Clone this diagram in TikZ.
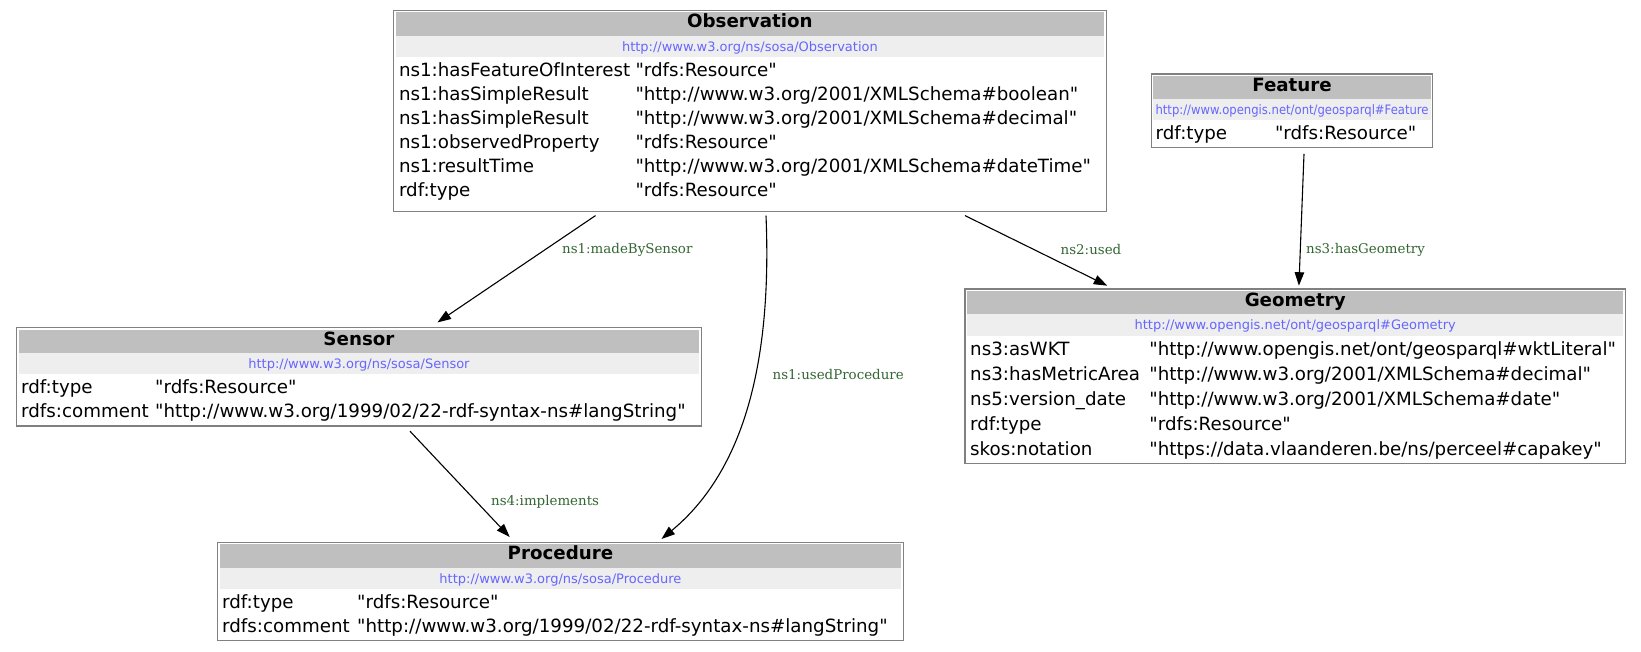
\documentclass[tikz,border=0pt]{standalone}
\usepackage{fontspec}
\usepackage{graphicx}
\setmainfont{DejaVu Sans}[Ligatures=TeXOff]
\newfontfamily\lblfont{DejaVu Serif}[Ligatures=TeXOff]
\usetikzlibrary{calc,arrows.meta}
\definecolor{hdr}{HTML}{BFBFBF}
\definecolor{urlbg}{HTML}{EEEEEE}
\definecolor{urlfg}{HTML}{6666FF}
\definecolor{lblfg}{HTML}{336633}
\definecolor{bord}{HTML}{808080}
\tikzset{
  rbox/.style={draw=bord, line width=1.2pt, inner sep=0pt, outer sep=0pt, anchor=north west},
  titletxt/.style={font=\fontsize{18.25}{20}\selectfont\bfseries, inner sep=0pt, anchor=base},
  urltxt/.style={font=\fontsize{13}{15}\selectfont, text=urlfg, inner sep=0pt, anchor=base},
  rowtxt/.style={font=\fontsize{18.25}{20}\selectfont, inner sep=0pt, anchor=base west},
  lbl/.style={font=\lblfont\fontsize{13.4}{15}\selectfont, text=lblfg, inner sep=0pt, anchor=west},
  edge/.style={draw=black, line width=1.1pt, -{Triangle[length=13.5pt,width=9.5pt]}}
}
% #1 name, #2 L, #3 T, #4 R, #5 B, #6 title, #7 url
\newcommand\rdfbox[7]{%
  \node[rbox, minimum width=#4pt-#2pt, minimum height=#5pt-#3pt] (#1) at (#2,#3) {};
  \fill[hdr] ($(#1.north west)+(2,2)$) rectangle ($(#1.north east)+(-2,25.5)$);
  \fill[urlbg] ($(#1.north west)+(2,25.5)$) rectangle ($(#1.north east)+(-2,46.5)$);
  \node[titletxt] (#1-title) at ($(#1.north)+(0,17.5)$) {#6};
  \node[urltxt] (#1-url) at ($(#1.north)+(0,41)$) {#7};
}
% #1 name prefix, #2 key x, #3 value x, #4 baseline y, #5 key, #6 value
\newcommand\rdfrow[6]{%
  \node[rowtxt] (#1k) at (#2,#4) {#5};
  \node[rowtxt] (#1v) at (#3,#4) {#6};
}
\begin{document}
\begin{tikzpicture}[x=1pt,y=-1pt]
\useasboundingbox (0,0) rectangle (1641,652);
\fill[white] (0,0) rectangle (1641,652);

% Observation
\rdfbox{obs}{393.5}{10.5}{1106.3}{211.4}{Observation}{http://www.w3.org/ns/sosa/Observation}
\rdfrow{obs1}{398.8}{635.3}{76.7}{ns1:hasFeatureOfInterest}{"rdfs:Resource"}
\rdfrow{obs2}{398.8}{635.3}{100.7}{ns1:hasSimpleResult}{"http://www.w3.org/2001/XMLSchema\#boolean"}
\rdfrow{obs3}{398.8}{635.3}{124.7}{ns1:hasSimpleResult}{"http://www.w3.org/2001/XMLSchema\#decimal"}
\rdfrow{obs4}{398.8}{635.3}{148.7}{ns1:observedProperty}{"rdfs:Resource"}
\rdfrow{obs5}{398.8}{635.3}{172.7}{ns1:resultTime}{"http://www.w3.org/2001/XMLSchema\#dateTime"}
\rdfrow{obs6}{398.8}{635.3}{196.7}{rdf:type}{"rdfs:Resource"}

% Feature
\rdfbox{feat}{1151.3}{74}{1432.8}{147.6}{Feature}{\scalebox{0.894}[1]{http://www.opengis.net/ont/geosparql\#Feature}}
\rdfrow{feat1}{1155.5}{1274.8}{140}{rdf:type}{"rdfs:Resource"}

% Sensor
\rdfbox{sen}{16.7}{327.6}{701.2}{426}{Sensor}{http://www.w3.org/ns/sosa/Sensor}
\rdfrow{sen1}{21}{155}{393.8}{rdf:type}{"rdfs:Resource"}
\rdfrow{sen2}{21}{155}{417.8}{rdfs:comment}{"http://www.w3.org/1999/02/22-rdf-syntax-ns\#langString"}

% Geometry
\rdfbox{geo}{965}{289}{1625.4}{463.6}{Geometry}{http://www.opengis.net/ont/geosparql\#Geometry}
\rdfrow{geo1}{970}{1149.2}{355}{ns3:asWKT}{"http://www.opengis.net/ont/geosparql\#wktLiteral"}
\rdfrow{geo2}{970}{1149.2}{380}{ns3:hasMetricArea}{"http://www.w3.org/2001/XMLSchema\#decimal"}
\rdfrow{geo3}{970}{1149.2}{405}{ns5:version\_date}{"http://www.w3.org/2001/XMLSchema\#date"}
\rdfrow{geo4}{970}{1149.2}{430}{rdf:type}{"rdfs:Resource"}
\rdfrow{geo5}{970}{1149.2}{455}{skos:notation}{"https://data.vlaanderen.be/ns/perceel\#capakey"}

% Procedure
\rdfbox{proc}{217.7}{542.1}{903.2}{640.5}{Procedure}{http://www.w3.org/ns/sosa/Procedure}
\rdfrow{proc1}{222}{357}{608.3}{rdf:type}{"rdfs:Resource"}
\rdfrow{proc2}{222}{357}{632.3}{rdfs:comment}{"http://www.w3.org/1999/02/22-rdf-syntax-ns\#langString"}

% Edge end points
\coordinate (mbs-s) at ($(obs.south west)+(202,4.2)$);
\coordinate (mbs-e) at ($(sen.north west)+(420.8,-5.2)$);
\coordinate (up-s) at ($(obs.south west)+(372.5,4.2)$);
\coordinate (up-e) at ($(proc.north west)+(443.8,-3.1)$);
\coordinate (imp-s) at ($(sen.south west)+(393.3,5.2)$);
\coordinate (imp-e) at ($(proc.north west)+(292,-5.1)$);
\coordinate (used-s) at ($(obs.south west)+(571.5,4.2)$);
\coordinate (used-e) at ($(geo.north west)+(142.3,-3.3)$);
\coordinate (hg-s) at ($(feat.south west)+(152.7,6.3)$);
\coordinate (hg-e) at ($(geo.north west)+(333.9,-3.3)$);

% Edges
\draw[edge] (mbs-s) -- (mbs-e);
\draw[edge] (up-s) .. controls ($(up-s)+(6,144.4)$) and ($(up-e)+(83.5,-69)$) .. (up-e);
\draw[edge] (imp-s) -- (imp-e);
\draw[edge] (used-s) -- (used-e);
\draw[edge] (hg-s) -- (hg-e);

% Edge labels
\node[lbl] (l-mbs) at (562,250) {ns1:madeBySensor};
\node[lbl] (l-up) at (772.5,375) {ns1:usedProcedure};
\node[lbl] (l-imp) at (491,502) {ns4:implements};
\node[lbl] (l-used) at (1060.5,250) {ns2:used};
\node[lbl] (l-hg) at (1306,250) {ns3:hasGeometry};
\end{tikzpicture}
\end{document}
